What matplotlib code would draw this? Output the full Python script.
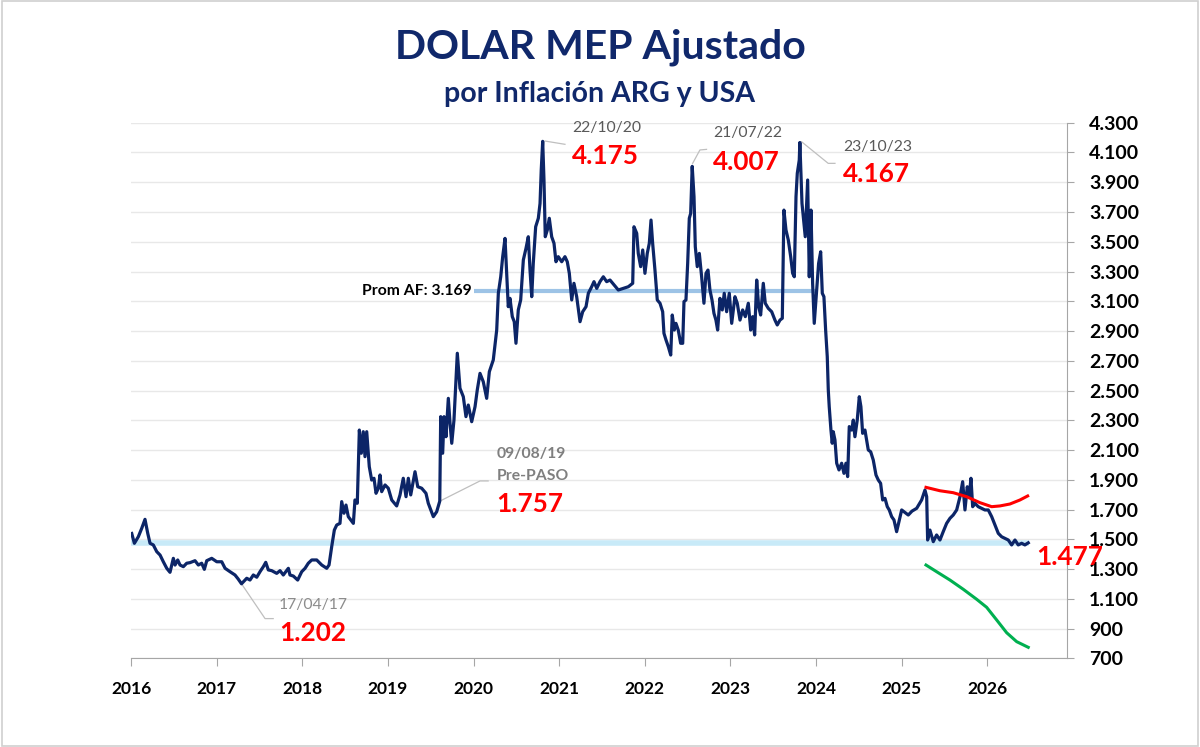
import matplotlib
matplotlib.use("Agg")
import matplotlib.pyplot as plt
from matplotlib.ticker import FixedLocator, FuncFormatter
from matplotlib.patches import Rectangle

plt.rcParams['font.family'] = ['Lato', 'DejaVu Sans']

# ---------------- data ----------------
mep_years = [
    2016.008, 2016.039, 2016.085, 2016.125, 2016.163, 2016.195, 2016.222, 2016.260, 2016.300, 2016.339,
    2016.377, 2016.417, 2016.455, 2016.494, 2016.514, 2016.545, 2016.572, 2016.611, 2016.650, 2016.689,
    2016.747, 2016.786, 2016.825, 2016.856, 2016.884, 2016.942, 2017.001, 2017.059, 2017.098, 2017.156,
    2017.214, 2017.250, 2017.290, 2017.351, 2017.389, 2017.428, 2017.468, 2017.506, 2017.545, 2017.573,
    2017.603, 2017.643, 2017.701, 2017.740, 2017.778, 2017.837, 2017.856, 2017.895, 2017.946, 2017.993,
    2018.032, 2018.070, 2018.110, 2018.168, 2018.227, 2018.285, 2018.312, 2018.343, 2018.374, 2018.402,
    2018.440, 2018.460, 2018.487, 2018.510, 2018.537, 2018.596, 2018.615, 2018.642, 2018.666, 2018.689,
    2018.712, 2018.732, 2018.752, 2018.782, 2018.810, 2018.837, 2018.861, 2018.888, 2018.907, 2018.927,
    2018.966, 2019.004, 2019.044, 2019.102, 2019.141, 2019.179, 2019.211, 2019.238, 2019.266, 2019.316,
    2019.348, 2019.394, 2019.444, 2019.471, 2019.530, 2019.569, 2019.605, 2019.616, 2019.639, 2019.655,
    2019.678, 2019.705, 2019.725, 2019.745, 2019.771, 2019.810, 2019.841, 2019.880, 2019.911, 2019.938,
    2019.978, 2020.017, 2020.043, 2020.075, 2020.113, 2020.153, 2020.184, 2020.230, 2020.270, 2020.289,
    2020.317, 2020.340, 2020.367, 2020.387, 2020.405, 2020.425, 2020.452, 2020.475, 2020.495, 2020.522,
    2020.550, 2020.581, 2020.612, 2020.639, 2020.659, 2020.679, 2020.697, 2020.725, 2020.756, 2020.776,
    2020.790, 2020.807, 2020.822, 2020.837, 2020.861, 2020.884, 2020.912, 2020.939, 2020.962, 2020.989,
    2021.029, 2021.067, 2021.094, 2021.118, 2021.146, 2021.172, 2021.204, 2021.243, 2021.274, 2021.313,
    2021.340, 2021.379, 2021.406, 2021.438, 2021.476, 2021.515, 2021.554, 2021.593, 2021.640, 2021.690,
    2021.748, 2021.807, 2021.858, 2021.873, 2021.905, 2021.923, 2021.951, 2021.975, 2022.001, 2022.028,
    2022.052, 2022.072, 2022.091, 2022.118, 2022.145, 2022.177, 2022.208, 2022.223, 2022.247, 2022.274,
    2022.302, 2022.320, 2022.344, 2022.363, 2022.390, 2022.418, 2022.442, 2022.457, 2022.480, 2022.500,
    2022.519, 2022.535, 2022.547, 2022.553, 2022.574, 2022.589, 2022.612, 2022.636, 2022.663, 2022.690,
    2022.714, 2022.737, 2022.760, 2022.784, 2022.807, 2022.830, 2022.850, 2022.877, 2022.904, 2022.927,
    2022.955, 2022.986, 2023.014, 2023.052, 2023.079, 2023.111, 2023.142, 2023.173, 2023.208, 2023.236,
    2023.259, 2023.282, 2023.306, 2023.329, 2023.352, 2023.383, 2023.406, 2023.441, 2023.481, 2023.519,
    2023.546, 2023.578, 2023.605, 2023.624, 2023.648, 2023.675, 2023.703, 2023.726, 2023.745, 2023.765,
    2023.780, 2023.803, 2023.810, 2023.835, 2023.850, 2023.873, 2023.901, 2023.920, 2023.940, 2023.959,
    2023.978, 2024.006, 2024.029, 2024.053, 2024.072, 2024.091, 2024.111, 2024.130, 2024.142, 2024.153,
    2024.173, 2024.188, 2024.200, 2024.220, 2024.240, 2024.267, 2024.298, 2024.325, 2024.348, 2024.368,
    2024.387, 2024.415, 2024.434, 2024.453, 2024.480, 2024.504, 2024.523, 2024.543, 2024.570, 2024.590,
    2024.609, 2024.637, 2024.667, 2024.699, 2024.726, 2024.753, 2024.777, 2024.804, 2024.831, 2024.854,
    2024.882, 2024.909, 2024.940, 2024.999, 2025.026, 2025.076, 2025.119, 2025.174, 2025.232, 2025.271,
    2025.291, 2025.302, 2025.329, 2025.368, 2025.407, 2025.446, 2025.484, 2025.524, 2025.563, 2025.601,
    2025.641, 2025.680, 2025.711, 2025.738, 2025.765, 2025.788, 2025.808, 2025.828, 2025.854, 2025.893,
    2025.933, 2025.971, 2026.010, 2026.050, 2026.088, 2026.127, 2026.166, 2026.205, 2026.244, 2026.283,
    2026.322, 2026.360, 2026.400, 2026.438, 2026.477,
]
mep_values = [
    1540, 1474, 1518, 1575, 1635, 1541, 1474, 1463, 1418, 1395,
    1350, 1306, 1279, 1373, 1328, 1362, 1328, 1317, 1340, 1344,
    1357, 1328, 1340, 1299, 1357, 1373, 1350, 1350, 1306, 1283,
    1261, 1235, 1202, 1239, 1227, 1261, 1246, 1283, 1317, 1346,
    1295, 1290, 1272, 1290, 1261, 1306, 1261, 1254, 1227, 1283,
    1306, 1340, 1362, 1362, 1328, 1306, 1328, 1451, 1563, 1597,
    1608, 1754, 1676, 1731, 1653, 1608, 1765, 1743, 2235, 2079,
    2224, 2056, 2224, 1989, 1899, 1911, 1810, 1844, 1933, 1821,
    1866, 1844, 1765, 1725, 1799, 1911, 1787, 1911, 1799, 1955,
    1854, 1844, 1810, 1743, 1653, 1686, 1757, 2325, 2079, 2325,
    2190, 2448, 2280, 2146, 2302, 2751, 2516, 2459, 2325, 2403,
    2291, 2392, 2504, 2616, 2560, 2448, 2627, 2706, 2907, 3154,
    3265, 3400, 3523, 3288, 3064, 3120, 2997, 2963, 2818, 3042,
    3109, 3378, 3456, 3534, 3310, 3131, 3355, 3601, 3658, 3758,
    3982, 4175, 3915, 3534, 3579, 3658, 3534, 3490, 3366, 3400,
    3366, 3400, 3366, 3288, 3109, 3221, 3131, 2963, 3030, 3064,
    3154, 3198, 3232, 3187, 3232, 3265, 3232, 3243, 3210, 3176,
    3187, 3198, 3221, 3601, 3557, 3422, 3333, 3445, 3288, 3422,
    3490, 3646, 3490, 3310, 3109, 3087, 3030, 2885, 2840, 2795,
    2739, 3008, 2907, 2952, 2907, 2818, 2818, 3098, 3109, 3355,
    3658, 3691, 3915, 4007, 3803, 3467, 3333, 3422, 3265, 3087,
    3288, 3310, 3176, 3109, 3019, 2974, 2907, 3120, 3042, 3154,
    3030, 3154, 2952, 3131, 3087, 2974, 3042, 2997, 3087, 2907,
    2997, 2874, 3243, 3064, 3008, 3221, 3087, 3053, 3030, 2974,
    2941, 2974, 2986, 3713, 3579, 3512, 3400, 3288, 3265, 3803,
    3960, 4049, 4167, 3758, 3668, 3534, 3915, 3265, 3713, 3221,
    2952, 3176, 3355, 3433, 3154, 3131, 2907, 2728, 2504, 2392,
    2235, 2146, 2224, 2168, 2012, 1967, 2012, 1944, 2012, 1922,
    2258, 2235, 2302, 2190, 2302, 2459, 2392, 2213, 2235, 2168,
    2101, 2089, 2034, 1933, 1899, 1877, 1765, 1776, 1720, 1698,
    1653, 1631, 1552, 1698, 1686, 1664, 1690, 1709, 1765, 1832,
    1787, 1496, 1563, 1485, 1530, 1496, 1552, 1608, 1642, 1664,
    1698, 1787, 1888, 1698, 1854, 1787, 1911, 1720, 1743, 1720,
    1709, 1698, 1698, 1653, 1597, 1541, 1518, 1507, 1496, 1463,
    1496, 1463, 1474, 1463, 1477,
]

upper_years = [2025.283, 2025.446, 2025.601, 2025.758, 2025.913, 2026.050, 2026.146, 2026.263, 2026.380, 2026.470]
upper_values = [1850, 1827, 1814, 1787, 1747, 1720, 1725, 1738, 1765, 1792]

lower_years = [2025.283, 2025.407, 2025.563, 2025.718, 2025.874, 2025.991, 2026.108, 2026.225, 2026.342, 2026.477]
lower_values = [1328, 1283, 1227, 1165, 1098, 1044, 959, 873, 813, 775]

prom_af = 3169
prom_af_span = [2020.0, 2024.0]
current_level = 1477
current_span = [2016.0, 2026.48]

year_ticks = list(range(2016, 2027))
y_ticks = list(range(700, 4301, 200))

NAVY = "#0c2567"
TITLE_NAVY = "#10286b"
RED = "#ff0000"

fig = plt.figure(figsize=(12, 7.47), dpi=100)
ax = fig.add_axes([0.1092, 0.1185, 0.7800, 0.7172])

# figure border
fig.patches.append(Rectangle((0.002, 0.002), 0.996, 0.996, transform=fig.transFigure,
                             fill=False, edgecolor="#d0d0d0", linewidth=1.2))

ax.set_xlim(2016.0, 2026.93)
ax.set_ylim(700, 4300)

# grid
ax.yaxis.set_major_locator(FixedLocator(y_ticks))
ax.xaxis.set_major_locator(FixedLocator(year_ticks))
ax.grid(axis="y", color="#e8e8e8", linewidth=1.0, zorder=0)
ax.set_axisbelow(True)

# bands
ax.plot(current_span, [current_level, current_level], color="#c8eaf8", linewidth=4.0,
        solid_capstyle="butt", zorder=1)
ax.plot(prom_af_span, [prom_af, prom_af], color="#9dc3e6", linewidth=3.0,
        solid_capstyle="butt", zorder=1)

# series
ax.plot(mep_years, mep_values, color=NAVY, linewidth=2.3, zorder=3, solid_joinstyle="round")
ax.plot(upper_years, upper_values, color=RED, linewidth=2.2, zorder=3)
ax.plot(lower_years, lower_values, color="#00b050", linewidth=2.2, zorder=3)

# spines
for s in ["top", "left"]:
    ax.spines[s].set_visible(False)
ax.spines["bottom"].set_color("#a6a6a6")
ax.spines["right"].set_color("#a6a6a6")

ax.yaxis.tick_right()
ax.tick_params(axis="y", which="both", length=5, color="#a6a6a6", pad=11,
               labelsize=14, labelcolor="black")
ax.tick_params(axis="x", which="both", length=6, color="#a6a6a6", pad=10,
               labelsize=12.5, labelcolor="black")
ax.yaxis.set_major_formatter(FuncFormatter(lambda v, p: f"{int(v):,}".replace(",", ".")))
ax.xaxis.set_major_formatter(FuncFormatter(lambda v, p: f"{int(v)}"))
for lbl in ax.get_yticklabels() + ax.get_xticklabels():
    lbl.set_fontweight("bold")

# titles
fig.text(0.5, 0.937, "DOLAR MEP Ajustado", ha="center", va="center", fontsize=29.5,
         fontweight="bold", color=TITLE_NAVY)
fig.text(0.5, 0.874, "por Inflación ARG y USA", ha="center", va="center", fontsize=20.5,
         fontweight="bold", color=TITLE_NAVY)

GRAY = "#595959"
LEAD = "#bfbfbf"
VAL_FS = 18.8
DATE_FS = 11.3

# 22/10/20
ax.plot([2020.834, 2021.067], [4177, 4155], color=LEAD, lw=0.9, zorder=2)
ax.text(2021.149, 4264, "22/10/20", color=GRAY, fontsize=DATE_FS, ha="left", va="center")
ax.text(2021.149, 4076, "4.175", color=RED, fontsize=VAL_FS, fontweight="bold", ha="left", va="center")
# 21/07/22
ax.plot([2022.558, 2022.643, 2022.72], [4027, 4117, 4121], color=LEAD, lw=0.9, zorder=2)
ax.text(2022.795, 4231, "21/07/22", color=GRAY, fontsize=DATE_FS, ha="left", va="center")
ax.text(2022.795, 4036, "4.007", color=RED, fontsize=VAL_FS, fontweight="bold", ha="left", va="center")
# 23/10/23
ax.plot([2023.831, 2024.141, 2024.22], [4172, 4027, 4027], color=LEAD, lw=0.9, zorder=2)
ax.text(2024.313, 4137, "23/10/23", color=GRAY, fontsize=DATE_FS, ha="left", va="center")
ax.text(2024.313, 3955, "4.167", color=RED, fontsize=VAL_FS, fontweight="bold", ha="left", va="center")
# 09/08/19
ax.plot([2019.605, 2020.075, 2020.17], [1757, 1893, 1893], color=LEAD, lw=0.9, zorder=2)
ax.text(2020.27, 2074, "09/08/19", color="#7f7f7f", fontsize=11.3, fontweight="bold", ha="left", va="center")
ax.text(2020.27, 1926, "Pre-PASO", color="#7f7f7f", fontsize=11.3, fontweight="bold", ha="left", va="center")
ax.text(2020.27, 1738, "1.757", color=RED, fontsize=VAL_FS, fontweight="bold", ha="left", va="center")
# 17/04/17
ax.plot([2017.29, 2017.565, 2017.66], [1202, 968, 968], color=LEAD, lw=0.9, zorder=2)
ax.text(2017.72, 1060, "17/04/17", color="#8c8c8c", fontsize=DATE_FS, ha="left", va="center")
ax.text(2017.73, 870, "1.202", color=RED, fontsize=VAL_FS, fontweight="bold", ha="left", va="center")

# current level label
ax.text(2026.57, 1385, "1.477", color=RED, fontsize=VAL_FS, fontweight="bold", ha="left",
        va="center", clip_on=False, zorder=5)

# Prom AF label
ax.text(2019.98, prom_af, "Prom AF: 3.169", color="black", fontsize=11.3, fontweight="bold",
        ha="right", va="center")

fig.savefig("out.png", dpi=100)
